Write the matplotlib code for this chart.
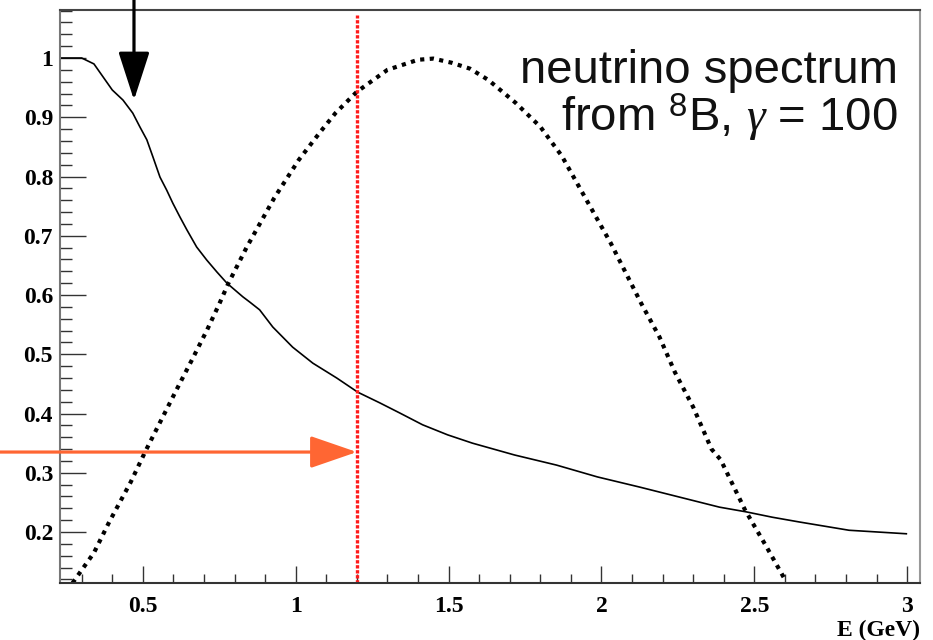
import numpy as np
import matplotlib
matplotlib.use("Agg")
import matplotlib.pyplot as plt
from matplotlib.ticker import MultipleLocator, FormatStrFormatter

# falling curve (solid)
E_solid = [0.23, 0.30, 0.34, 0.37, 0.40, 0.435, 0.467, 0.49, 0.513, 0.533, 0.556, 0.578,
           0.598, 0.621, 0.644, 0.676, 0.709, 0.742, 0.775, 0.827, 0.850, 0.882, 0.925,
           0.99, 1.056, 1.134, 1.203, 1.275, 1.34, 1.415, 1.497, 1.578, 1.716, 1.853,
           1.987, 2.124, 2.255, 2.386, 2.474, 2.559, 2.647, 2.81, 3.0]
P_solid = [1.0, 1.0, 0.99, 0.968, 0.946, 0.929, 0.907, 0.884, 0.862, 0.833, 0.799, 0.777,
           0.755, 0.732, 0.710, 0.681, 0.659, 0.639, 0.620, 0.597, 0.588, 0.575, 0.546,
           0.512, 0.485, 0.460, 0.436, 0.418, 0.401, 0.381, 0.364, 0.350, 0.330, 0.313,
           0.293, 0.276, 0.259, 0.242, 0.234, 0.225, 0.217, 0.203, 0.197]

# neutrino spectrum from 8B (dotted)
E_spec = [0.27, 0.34, 0.39, 0.46, 0.51, 0.56, 0.61, 0.66, 0.71, 0.75, 0.78, 0.84, 0.93,
          1.01, 1.08, 1.13, 1.20, 1.30, 1.40, 1.45, 1.51, 1.57, 1.63, 1.72, 1.80, 1.87,
          1.97, 2.03, 2.08, 2.13, 2.19, 2.24, 2.30, 2.36, 2.39, 2.47, 2.54, 2.60]
F_spec = [0.114, 0.165, 0.217, 0.284, 0.338, 0.389, 0.440, 0.490, 0.541, 0.585, 0.620, 0.681, 0.764,
          0.828, 0.875, 0.907, 0.943, 0.980, 0.997, 0.999, 0.992, 0.982, 0.963, 0.924, 0.884, 0.835,
          0.743, 0.688, 0.637, 0.586, 0.529, 0.470, 0.411, 0.340, 0.322, 0.237, 0.175, 0.12]

cut_E = 1.2        # red vertical line
cut_level = 0.335  # orange arrow level
arrow_E = 0.471    # black arrow position
arrow_tip = 0.929

plt.rcParams['mathtext.fontset'] = 'custom'
plt.rcParams['mathtext.rm'] = 'Liberation Sans'
plt.rcParams['mathtext.it'] = 'Liberation Serif:italic'

fig = plt.figure(figsize=(9.33, 6.4), dpi=100)
ax = fig.add_axes([60/933, 1-583/640, 860/933, 573/640])

ax.plot(E_solid, P_solid, color='black', lw=1.2, solid_capstyle='butt')
ax.plot(E_spec, F_spec, color='black', lw=3.0, dashes=(1.0, 1.3))
ax.plot([cut_E, cut_E], [0.114, 1.072], color='#ff1a1a', lw=2.4, dashes=(1.0, 0.5))

ax.set_xlim(0.229, 3.042)
ax.set_ylim(0.114, 1.081)

ax.xaxis.set_major_locator(MultipleLocator(0.5))
ax.xaxis.set_minor_locator(MultipleLocator(0.1))
ax.yaxis.set_major_locator(MultipleLocator(0.1))
ax.yaxis.set_minor_locator(MultipleLocator(0.02))
ax.xaxis.set_major_formatter(FormatStrFormatter('%g'))
ax.yaxis.set_major_formatter(FormatStrFormatter('%g'))

ax.tick_params(which='both', direction='in', top=False, right=False, color='#333333', width=1.0)
ax.tick_params(axis='x', which='major', length=12, pad=9)
ax.tick_params(axis='x', which='minor', length=6.5)
ax.tick_params(axis='y', which='major', length=18.5, pad=5)
ax.tick_params(axis='y', which='minor', length=8.5)
for lab in ax.get_xticklabels() + ax.get_yticklabels():
    lab.set_fontfamily('Liberation Serif')
    lab.set_fontweight('bold')
    lab.set_fontsize(17)

for side, col in [('top', '#444444'), ('bottom', '#333333'), ('left', '#777777'), ('right', '#999999')]:
    ax.spines[side].set_color(col)
    ax.spines[side].set_linewidth(1.5)

fig.text(920/933, 1-636/640, 'E (GeV)', ha='right', va='baseline',
         family='Liberation Serif', fontweight='bold', fontsize=17)

fig.text(898/933, 1-83/640, 'neutrino spectrum', ha='right', va='baseline',
         family='Liberation Sans', fontsize=34, color='#111111')
fig.text(898/933, 1-131/640, r'from $^{\mathrm{8}}$B, $\mathit{\gamma}$ = 100', ha='right', va='baseline',
         family='Liberation Sans', fontsize=34, color='#111111')

# orange arrow from the left edge to the cut line
ax.annotate('', xy=(cut_E, cut_level), xycoords='data',
            xytext=(0.0, cut_level), textcoords=('figure fraction', 'data'),
            arrowprops=dict(arrowstyle='-|>,head_length=29,head_width=10', mutation_scale=1,
                            color='#ff6633', lw=2.3, shrinkA=0, shrinkB=0),
            annotation_clip=False)

# black arrow from the top edge
ax.annotate('', xy=(arrow_E, arrow_tip), xycoords='data',
            xytext=(arrow_E, 1.0), textcoords=('data', 'figure fraction'),
            arrowprops=dict(arrowstyle='-|>,head_length=30,head_width=9.7', mutation_scale=1,
                            color='black', lw=2.3, shrinkA=0, shrinkB=0),
            annotation_clip=False)

fig.savefig('out.png', dpi=100)
